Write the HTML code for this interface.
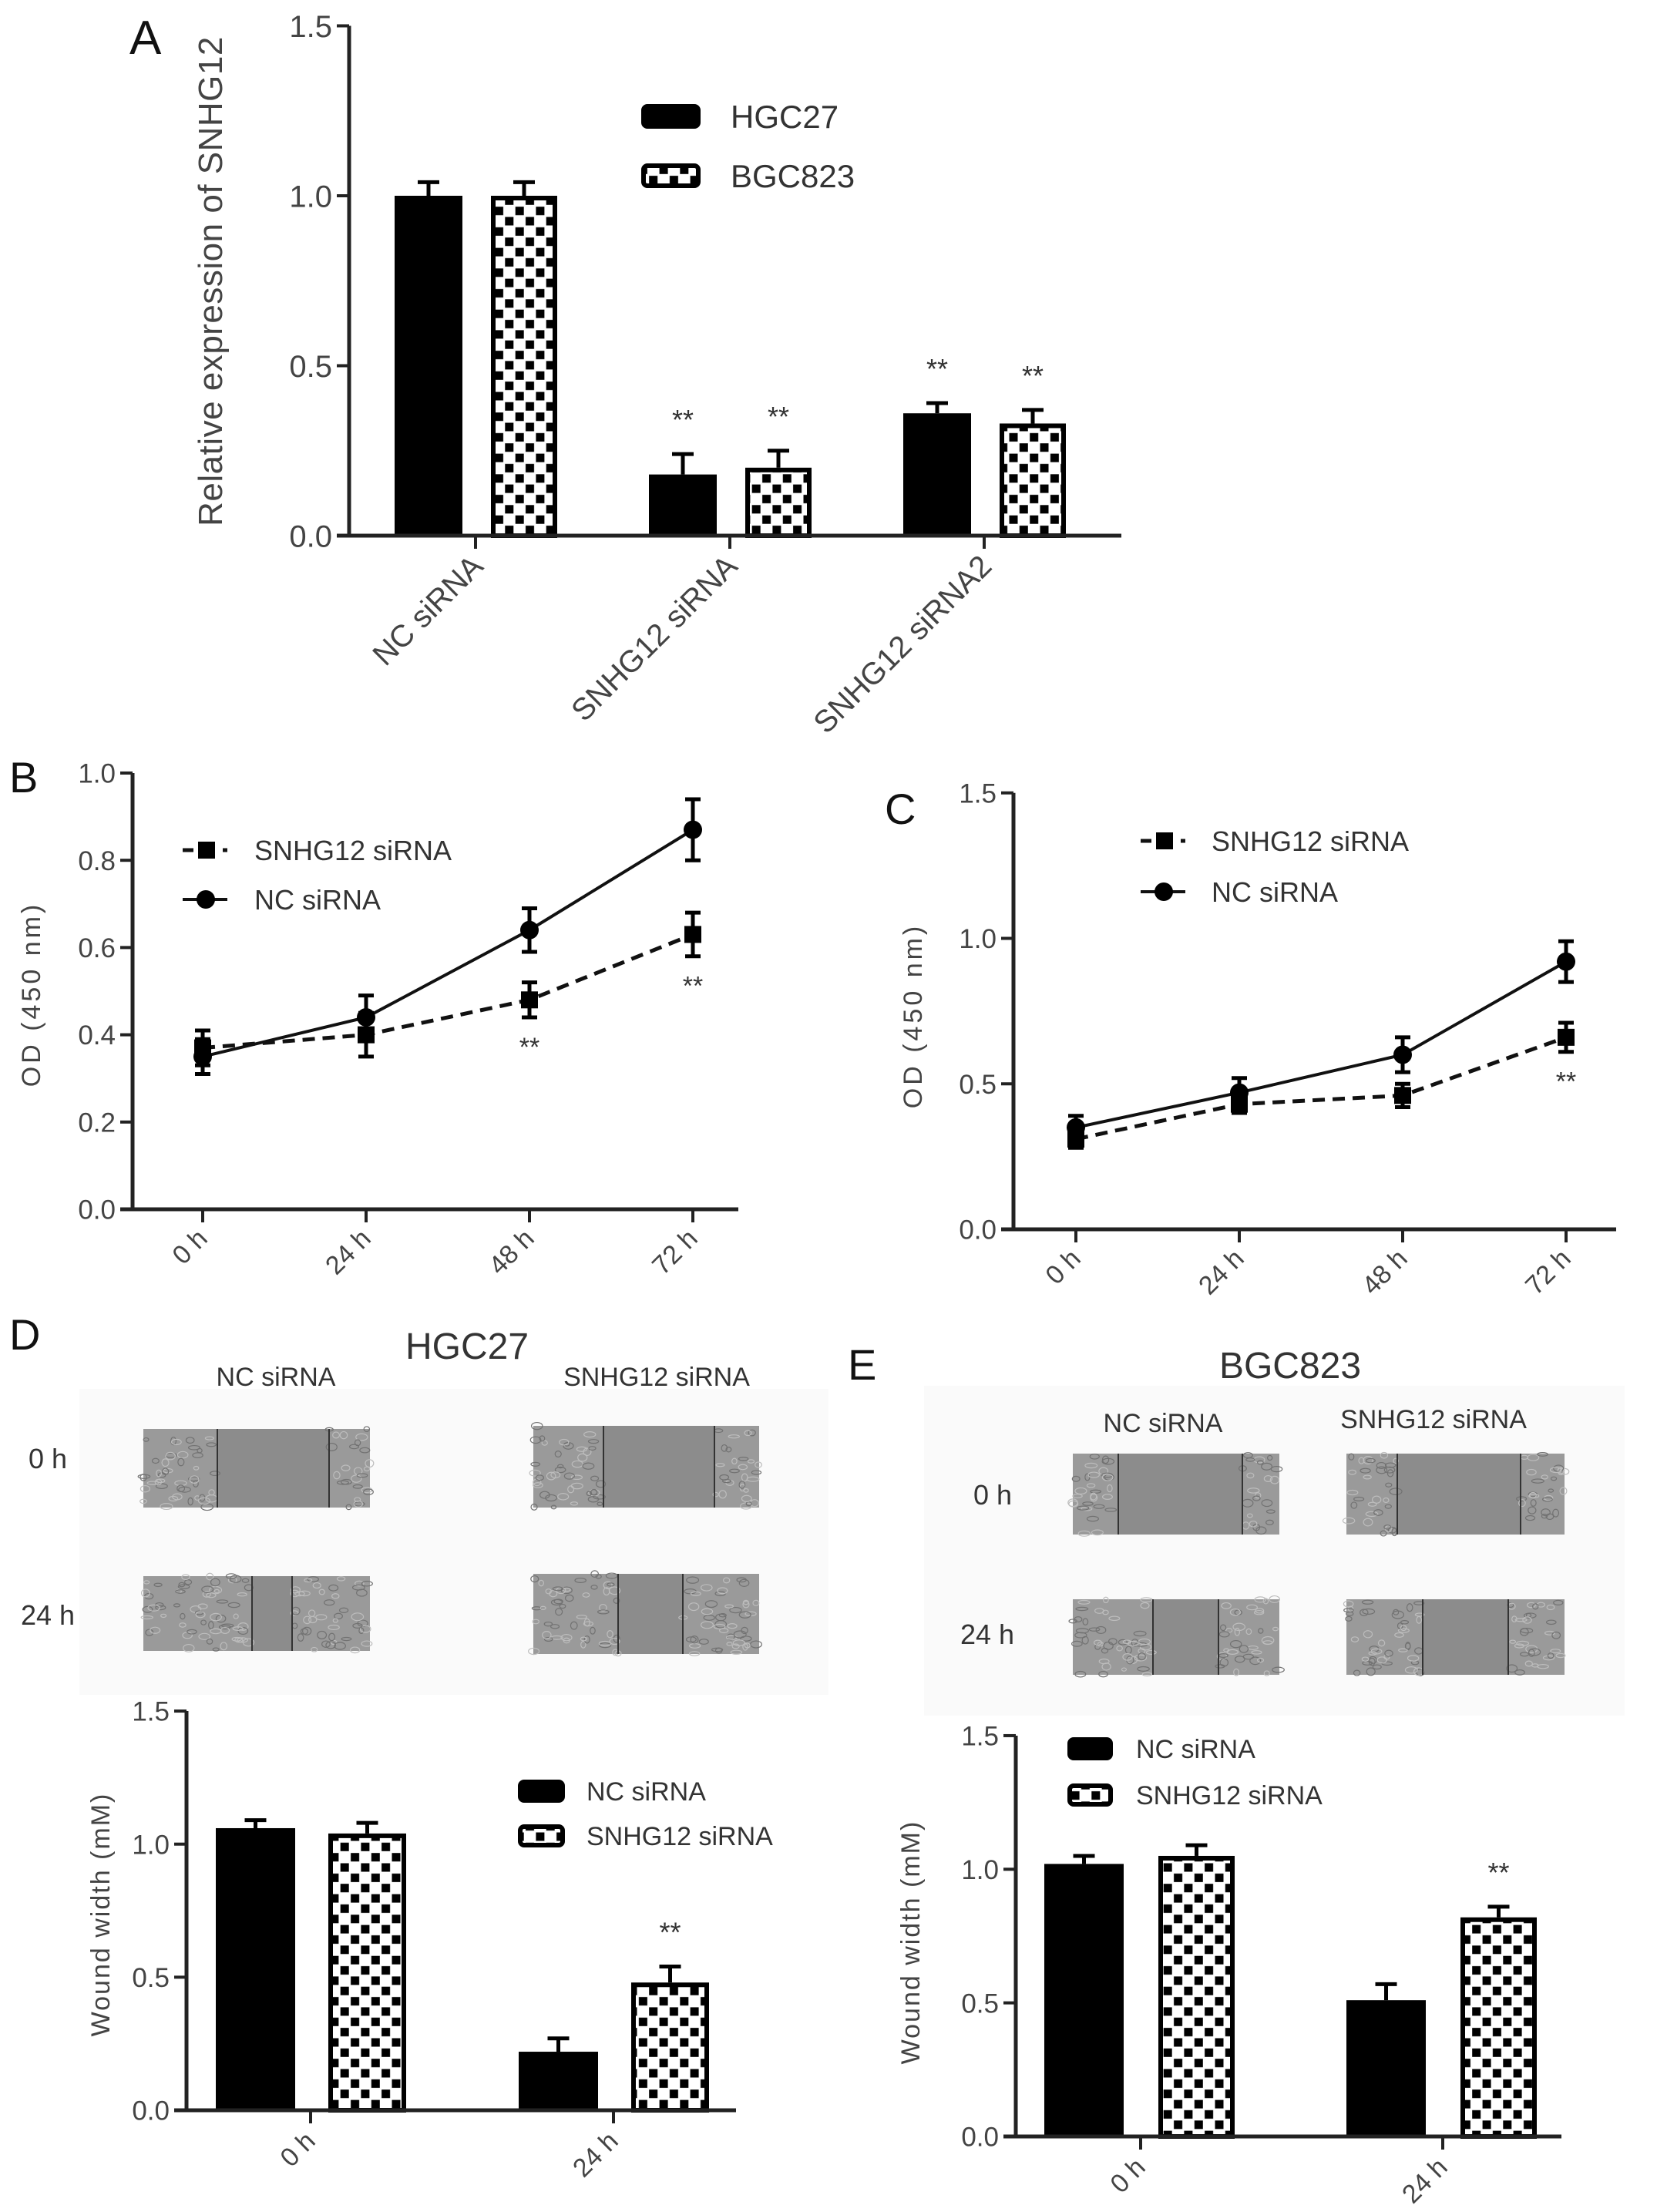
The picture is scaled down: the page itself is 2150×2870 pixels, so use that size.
<!DOCTYPE html>
<html><head><meta charset="utf-8"><style>
html,body{margin:0;padding:0;background:#fff;}
svg text{font-family:"Liberation Sans",Arial,sans-serif;}
</style></head><body>
<svg id="fig" width="2150" height="2865" viewBox="0 0 2150 2865" xmlns="http://www.w3.org/2000/svg">
<defs>
<pattern id="chk" patternUnits="userSpaceOnUse" width="26.7" height="26.7">
<rect width="26.7" height="26.7" fill="#fff"/>
<rect x="1.2" y="1.2" width="11" height="11" fill="#000"/>
<rect x="14.5" y="14.5" width="11" height="11" fill="#000"/>
</pattern>
</defs>
<rect width="2150" height="2865" fill="#fff"/>
<g id="root"></g>
</svg>
<script>
// ---- data panel A ----
const aCategories = ["NC siRNA", "SNHG12 siRNA", "SNHG12 siRNA2"];
const aHGC27 = [1.0, 0.18, 0.36];
const aHGC27Err = [0.04, 0.06, 0.03];
const aBGC823 = [1.0, 0.20, 0.33];
const aBGC823Err = [0.04, 0.05, 0.04];
const aStars = [false, true, true];
const aTicks = [0.0, 0.5, 1.0, 1.5];
// ---- data panel B ----
const timeCategories = ["0 h", "24 h", "48 h", "72 h"];
const bSNHG = [0.37, 0.40, 0.48, 0.63];
const bSNHGErr = [0.04, 0.05, 0.04, 0.05];
const bNC = [0.35, 0.44, 0.64, 0.87];
const bNCErr = [0.04, 0.05, 0.05, 0.07];
const bStars = [false, false, true, true];
const bTicks = [0.0, 0.2, 0.4, 0.6, 0.8, 1.0];
// ---- data panel C ----
const cSNHG = [0.31, 0.43, 0.46, 0.66];
const cSNHGErr = [0.03, 0.03, 0.04, 0.05];
const cNC = [0.35, 0.47, 0.60, 0.92];
const cNCErr = [0.04, 0.05, 0.06, 0.07];
const cStars = [false, false, false, true];
const cTicks = [0.0, 0.5, 1.0, 1.5];
// ---- data panel D ----
const woundCategories = ["0 h", "24 h"];
const dNC = [1.06, 0.22];
const dNCErr = [0.03, 0.05];
const dSNHG = [1.04, 0.48];
const dSNHGErr = [0.04, 0.06];
const dStars = [false, true];
// ---- data panel E ----
const eNC = [1.02, 0.51];
const eNCErr = [0.03, 0.06];
const eSNHG = [1.05, 0.82];
const eSNHGErr = [0.04, 0.04];
const eStars = [false, true];
const woundTicks = [0.0, 0.5, 1.0, 1.5];

const NS = "http://www.w3.org/2000/svg";
const root = document.getElementById('root');
function el(tag, attrs, parent, text) {
  const e = document.createElementNS(NS, tag);
  for (const k in attrs) e.setAttribute(k, attrs[k]);
  if (text !== undefined) e.textContent = text;
  (parent || root).appendChild(e);
  return e;
}
function grp(name, parent) {
  const g = el('g', {}, parent);
  
  
  return g;
}
function txt(name, parent, attrs, s) {
  const t = el('text', attrs, parent, s);
  
  
  return t;
}

function yAxis(g, ax, y0, perUnit, ticks, fs, topVal) {
  const yTop = y0 - topVal * perUnit;
  const l = el('line', {x1: ax, y1: yTop, x2: ax, y2: y0, stroke: '#222', 'stroke-width': 5}, g);
  
  
  ticks.forEach(v => {
    const y = y0 - v * perUnit;
    el('line', {x1: ax - 16, y1: y, x2: ax, y2: y, stroke: '#222', 'stroke-width': 4}, g);
    txt('y-tick-label', g, {x: ax - 22, y: y + fs * 0.36, 'text-anchor': 'end', 'font-size': fs, fill: '#444'}, v.toFixed(1));
  });
}
function xAxis(g, ax, axEnd, y0, centers, labels, fs, dx, dy) {
  const l = el('line', {x1: ax - 16, y1: y0, x2: axEnd, y2: y0, stroke: '#222', 'stroke-width': 5}, g);
  
  
  centers.forEach((cx, i) => {
    el('line', {x1: cx, y1: y0, x2: cx, y2: y0 + 17, stroke: '#222', 'stroke-width': 4}, g);
    txt('x-tick-label', g, {x: cx + dx, y: y0 + dy, 'text-anchor': 'end', 'font-size': fs, fill: '#444',
      transform: `rotate(-45 ${cx + dx} ${y0 + dy})`}, labels[i]);
  });
}
function errUp(g, cx, yv, ye) {
  el('line', {x1: cx, y1: yv, x2: cx, y2: ye, stroke: '#000', 'stroke-width': 5}, g);
  el('line', {x1: cx - 14, y1: ye, x2: cx + 14, y2: ye, stroke: '#000', 'stroke-width': 5}, g);
}
function barChart(g, cfg) {
  const {ax, axEnd, y0, perUnit, centers, s1, e1, s2, e2, stars, ticks, labels, tfs, lfs, off1, w1, off2, w2, ldx, ldy} = cfg;
  yAxis(g, ax, y0, perUnit, ticks, tfs, 1.5);
  centers.forEach((c, i) => {
    const y1 = y0 - s1[i] * perUnit;
    errUp(g, c + off1 + w1 / 2, y1, y0 - (s1[i] + e1[i]) * perUnit);
    const r1 = el('rect', {x: c + off1, y: y1, width: w1, height: s1[i] * perUnit, fill: '#000'}, g);
    
    
    const y2 = y0 - s2[i] * perUnit;
    errUp(g, c + off2 + w2 / 2, y2, y0 - (s2[i] + e2[i]) * perUnit);
    const r2 = el('rect', {x: c + off2 + 3, y: y2 + 3, width: w2 - 6, height: s2[i] * perUnit - 3, fill: 'url(#chk)', stroke: '#000', 'stroke-width': 6}, g);
    
    
    if (stars[i]) {
      const ya = y0 - (s1[i] + e1[i]) * perUnit - 48;
      const yb = y0 - (s2[i] + e2[i]) * perUnit - 48;
      if (cfg.starsBoth) txt('significance-mark', g, {x: c + off1 + w1 / 2, y: ya + 16, 'text-anchor': 'middle', 'font-size': 36, fill: '#333'}, '**');
      txt('significance-mark', g, {x: c + off2 + w2 / 2, y: yb + 16, 'text-anchor': 'middle', 'font-size': 36, fill: '#333'}, '**');
    }
  });
  xAxis(g, ax, axEnd, y0, centers, labels, lfs, ldx, ldy);
}
function legendBox(g, x, yc, w, h, fill, label, fs, tx, name) {
  const lg = grp(name, g);
  el('rect', {x: x + 3, y: yc - h / 2 + 3, width: w - 6, height: h - 6, rx: 5, fill: fill, stroke: '#000', 'stroke-width': 6}, lg);
  txt('legend-label', lg, {x: tx, y: yc + fs * 0.36, 'font-size': fs, fill: '#333'}, label);
}
function lineChart(g, cfg) {
  const {ax, axEnd, y0, perUnit, xs, top, ticks, sn, snE, nc, ncE, stars, fs, lfs} = cfg;
  yAxis(g, ax, y0, perUnit, ticks, fs, top);
  const Y = v => y0 - v * perUnit;
  const ptsN = nc.map((v, i) => `${xs[i]},${Y(v)}`).join(' ');
  const ptsS = sn.map((v, i) => `${xs[i]},${Y(v)}`).join(' ');
  const ln = el('polyline', {points: ptsN, fill: 'none', stroke: '#111', 'stroke-width': 4}, g);
   
  const ls = el('polyline', {points: ptsS, fill: 'none', stroke: '#111', 'stroke-width': 5, 'stroke-dasharray': '16 10'}, g);
   
  xs.forEach((x, i) => {
    [[nc[i], ncE[i]], [sn[i], snE[i]]].forEach(([v, e]) => {
      el('line', {x1: x, y1: Y(v - e), x2: x, y2: Y(v + e), stroke: '#000', 'stroke-width': 5}, g);
      el('line', {x1: x - 10, y1: Y(v - e), x2: x + 10, y2: Y(v - e), stroke: '#000', 'stroke-width': 5}, g);
      el('line', {x1: x - 10, y1: Y(v + e), x2: x + 10, y2: Y(v + e), stroke: '#000', 'stroke-width': 5}, g);
    });
    const sq = el('rect', {x: x - 11, y: Y(sn[i]) - 11, width: 22, height: 22, fill: '#000'}, g);
     
    const ci = el('circle', {cx: x, cy: Y(nc[i]), r: 12, fill: '#000'}, g);
     
    if (stars[i]) txt('significance-mark', g, {x: x, y: Y(sn[i] - snE[i]) + 34 + 16, 'text-anchor': 'middle', 'font-size': 34, fill: '#333'}, '**');
  });
  xAxis(g, ax, axEnd, y0, xs, timeCategories, lfs, 8, 40);
}
function lineLegend(g, x, y1, y2, tx, fs) {
  const l1 = grp('legend-snhg12-sirna', g);
  el('line', {x1: x, y1: y1, x2: x + 14, y2: y1, stroke: '#111', 'stroke-width': 5}, l1);
  el('rect', {x: x + 20, y: y1 - 11, width: 22, height: 22, fill: '#000'}, l1);
  el('line', {x1: x + 52, y1: y1, x2: x + 58, y2: y1, stroke: '#111', 'stroke-width': 5}, l1);
  txt('legend-label', l1, {x: tx, y: y1 + fs * 0.36, 'font-size': fs, fill: '#333'}, 'SNHG12 siRNA');
  const l2 = grp('legend-nc-sirna', g);
  el('line', {x1: x, y1: y2, x2: x + 58, y2: y2, stroke: '#111', 'stroke-width': 4}, l2);
  el('circle', {cx: x + 30, cy: y2, r: 12, fill: '#000'}, l2);
  txt('legend-label', l2, {x: tx, y: y2 + fs * 0.36, 'font-size': fs, fill: '#333'}, 'NC siRNA');
}
function rotTitle(g, name, x, y, s, fs, ls) {
  txt(name, g, {x: x, y: y, 'text-anchor': 'middle', 'font-size': fs, fill: '#444', 'letter-spacing': ls || 0,
    transform: `rotate(-90 ${x} ${y})`}, s);
}
function panelLabel(s, x, y, fs) {
  txt('panel-label-' + s.toLowerCase(), root, {x: x, y: y, 'font-size': fs, fill: '#111'}, s);
}

// ---------- Panel A ----------
const gA = grp('panel-a-chart');
panelLabel('A', 168, 70, 62);
rotTitle(gA, 'y-axis-title', 288, 365, 'Relative expression of SNHG12', 44, 0.5);
barChart(gA, {ax: 453, axEnd: 1455, y0: 695, perUnit: 441, centers: [617, 947, 1277], s1: aHGC27, e1: aHGC27Err, s2: aBGC823, e2: aBGC823Err,
  stars: aStars, starsBoth: true, ticks: aTicks, labels: aCategories, tfs: 40, lfs: 40, off1: -105, w1: 88, off2: 20, w2: 86, ldx: 12, ldy: 42});
legendBox(gA, 832, 151, 77, 32, '#000', 'HGC27', 42, 948, 'legend-hgc27');
legendBox(gA, 832, 228, 77, 32, 'url(#chk)', 'BGC823', 42, 948, 'legend-bgc823');

// ---------- Panel B ----------
const gB = grp('panel-b-chart');
panelLabel('B', 12, 1028, 56);
rotTitle(gB, 'y-axis-title', 52, 1290, 'OD (450 nm)', 34, 4);
lineChart(gB, {ax: 172, axEnd: 958, y0: 1569, perUnit: 566, xs: [263, 475, 687, 899], top: 1.0, ticks: bTicks,
  sn: bSNHG, snE: bSNHGErr, nc: bNC, ncE: bNCErr, stars: bStars, fs: 35, lfs: 34});
lineLegend(gB, 237, 1103, 1167, 330, 36);

// ---------- Panel C ----------
const gC = grp('panel-c-chart');
panelLabel('C', 1148, 1069, 56);
rotTitle(gC, 'y-axis-title', 1196, 1318, 'OD (450 nm)', 34, 4);
lineChart(gC, {ax: 1315, axEnd: 2097, y0: 1595, perUnit: 377.5, xs: [1396, 1608, 1820, 2032], top: 1.5, ticks: cTicks,
  sn: cSNHG, snE: cSNHGErr, nc: cNC, ncE: cNCErr, stars: cStars, fs: 35, lfs: 34});
lineLegend(gC, 1480, 1091, 1157, 1572, 36);

// ---------- Wound images ----------
let seed = 7;
function rnd() { seed = (seed * 16807) % 2147483647; return seed / 2147483647; }
function woundImage(g, x, y, w, h, l1, l2, name) {
  const ig = grp(name, g);
  el('rect', {x: x, y: y, width: w, height: h, fill: '#9a9a9a'}, ig);
  el('rect', {x: l1, y: y, width: l2 - l1, height: h, fill: '#8c8c8c'}, ig);
  [[x, l1], [l2, x + w]].forEach(([a, b]) => {
    for (let k = 0; k < (b - a) * h / 220; k++) {
      const cx = a + rnd() * (b - a), cy = y + rnd() * h;
      el('ellipse', {cx: cx, cy: cy, rx: 3 + rnd() * 5, ry: 2 + rnd() * 3, fill: 'none', stroke: rnd() > 0.5 ? '#bdbdbd' : '#727272', 'stroke-width': 1.2}, ig);
    }
  });
  el('line', {x1: l1, y1: y, x2: l1, y2: y + h, stroke: '#333', 'stroke-width': 2}, ig);
  el('line', {x1: l2, y1: y, x2: l2, y2: y + h, stroke: '#333', 'stroke-width': 2}, ig);
}

// ---------- Panel D ----------
const gDi = grp('panel-d-images');
el('rect', {x: 103, y: 1802, width: 972, height: 397, fill: '#fafafa'}, gDi);
panelLabel('D', 12, 1751, 56);
txt('cell-line-title', gDi, {x: 606, y: 1763, 'text-anchor': 'middle', 'font-size': 48, fill: '#333'}, 'HGC27');
txt('column-label', gDi, {x: 358, y: 1798, 'text-anchor': 'middle', 'font-size': 34, fill: '#333'}, 'NC siRNA');
txt('column-label', gDi, {x: 852, y: 1798, 'text-anchor': 'middle', 'font-size': 34, fill: '#333'}, 'SNHG12 siRNA');
txt('row-label', gDi, {x: 62, y: 1905, 'text-anchor': 'middle', 'font-size': 36, fill: '#333'}, '0 h');
txt('row-label', gDi, {x: 62, y: 2108, 'text-anchor': 'middle', 'font-size': 36, fill: '#333'}, '24 h');
woundImage(gDi, 186, 1854, 294, 102, 282, 427, 'wound-image-nc-0h');
woundImage(gDi, 692, 1850, 293, 106, 783, 927, 'wound-image-snhg12-0h');
woundImage(gDi, 186, 2045, 294, 97, 327, 379, 'wound-image-nc-24h');
woundImage(gDi, 692, 2042, 293, 104, 802, 886, 'wound-image-snhg12-24h');

const gD = grp('panel-d-chart');
rotTitle(gD, 'y-axis-title', 142, 2484, 'Wound width (mM)', 34, 2);
barChart(gD, {ax: 242, axEnd: 955, y0: 2738, perUnit: 345.3, centers: [403, 796], s1: dNC, e1: dNCErr, s2: dSNHG, e2: dSNHGErr,
  stars: dStars, starsBoth: false, ticks: woundTicks, labels: woundCategories, tfs: 35, lfs: 34, off1: -123, w1: 103, off2: 23, w2: 101, ldx: 8, ldy: 42});
legendBox(gD, 672, 2324, 61, 30, '#000', 'NC siRNA', 34, 761, 'legend-nc-sirna');
legendBox(gD, 672, 2382, 61, 30, 'url(#chk)', 'SNHG12 siRNA', 34, 761, 'legend-snhg12-sirna');

// ---------- Panel E ----------
const gEi = grp('panel-e-images');
el('rect', {x: 1199, y: 1798, width: 909, height: 428, fill: '#fafafa'}, gEi);
panelLabel('E', 1100, 1790, 56);
txt('cell-line-title', gEi, {x: 1674, y: 1788, 'text-anchor': 'middle', 'font-size': 48, fill: '#333'}, 'BGC823');
txt('column-label', gEi, {x: 1509, y: 1858, 'text-anchor': 'middle', 'font-size': 34, fill: '#333'}, 'NC siRNA');
txt('column-label', gEi, {x: 1860, y: 1853, 'text-anchor': 'middle', 'font-size': 34, fill: '#333'}, 'SNHG12 siRNA');
txt('row-label', gEi, {x: 1288, y: 1952, 'text-anchor': 'middle', 'font-size': 36, fill: '#333'}, '0 h');
txt('row-label', gEi, {x: 1281, y: 2133, 'text-anchor': 'middle', 'font-size': 36, fill: '#333'}, '24 h');
woundImage(gEi, 1392, 1886, 268, 105, 1451, 1612, 'wound-image-nc-0h');
woundImage(gEi, 1747, 1886, 283, 105, 1813, 1973, 'wound-image-snhg12-0h');
woundImage(gEi, 1392, 2075, 268, 98, 1496, 1581, 'wound-image-nc-24h');
woundImage(gEi, 1747, 2075, 283, 98, 1846, 1957, 'wound-image-snhg12-24h');

const gE = grp('panel-e-chart');
rotTitle(gE, 'y-axis-title', 1193, 2520, 'Wound width (mM)', 34, 2);
barChart(gE, {ax: 1318, axEnd: 2026, y0: 2772, perUnit: 346.7, centers: [1480, 1872], s1: eNC, e1: eNCErr, s2: eSNHG, e2: eSNHGErr,
  stars: eStars, starsBoth: false, ticks: woundTicks, labels: woundCategories, tfs: 35, lfs: 34, off1: -125, w1: 103, off2: 23, w2: 99, ldx: 8, ldy: 42});
legendBox(gE, 1385, 2269, 59, 30, '#000', 'NC siRNA', 34, 1474, 'legend-nc-sirna');
legendBox(gE, 1385, 2329, 59, 30, 'url(#chk)', 'SNHG12 siRNA', 34, 1474, 'legend-snhg12-sirna');
</script>
</body></html>
